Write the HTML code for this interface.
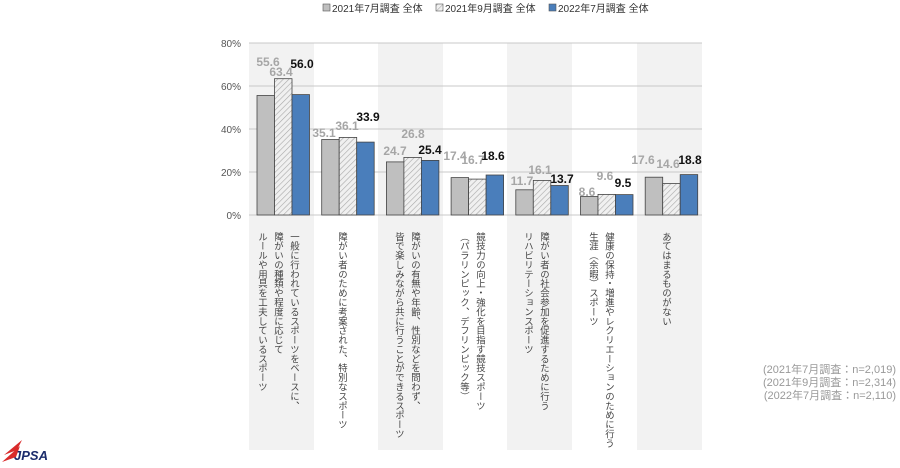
<!DOCTYPE html>
<html><head><meta charset="utf-8"><style>
body{margin:0;width:900px;height:468px;background:#fff;overflow:hidden;font-family:"Liberation Sans","Noto Sans CJK JP",sans-serif;}
.v{position:absolute;writing-mode:vertical-rl;font-size:9.4px;line-height:16px;color:#444;letter-spacing:0;top:232px;white-space:nowrap;}
.n{position:absolute;right:4px;font-size:11px;color:#999;line-height:13px;}
</style></head><body>
<svg width="900" height="468" style="position:absolute;left:0;top:0" font-family="Liberation Sans, Noto Sans CJK JP, sans-serif">
<defs><pattern id="h" width="4" height="4" patternUnits="userSpaceOnUse" patternTransform="rotate(45)"><rect width="4" height="4" fill="#f0f0f0"/><line x1="0" y1="0" x2="0" y2="4" stroke="#a8a8a8" stroke-width="1.2"/></pattern></defs>
<g fill="#f2f2f2">
<rect x="249" y="43" width="65" height="407"/><rect x="378" y="43" width="65" height="407"/><rect x="507" y="43" width="65" height="407"/><rect x="637" y="43" width="65" height="407"/>
</g>
<g stroke="#c8c8c8" stroke-width="1">
<line x1="249" y1="43" x2="702" y2="43"/><line x1="249" y1="86" x2="702" y2="86"/><line x1="249" y1="129" x2="702" y2="129"/><line x1="249" y1="172" x2="702" y2="172"/><line x1="249" y1="215" x2="702" y2="215"/>
</g>
<g font-size="10" fill="#555" text-anchor="end">
<text x="241" y="47">80%</text><text x="241" y="90">60%</text><text x="241" y="133">40%</text><text x="241" y="176">20%</text><text x="241" y="219">0%</text>
</g>
<g stroke="#444" stroke-width="0.8">
<rect x="257" y="95.5" width="17.5" height="119.5" fill="#bfbfbf"/><rect x="274.5" y="78.7" width="17.5" height="136.3" fill="url(#h)"/><rect x="292" y="94.6" width="17.5" height="120.4" fill="#4a7ebb"/>
<rect x="321.7" y="139.5" width="17.5" height="75.5" fill="#bfbfbf"/><rect x="339.2" y="137.4" width="17.5" height="77.6" fill="url(#h)"/><rect x="356.7" y="142.1" width="17.5" height="72.9" fill="#4a7ebb"/>
<rect x="386.4" y="161.9" width="17.5" height="53.1" fill="#bfbfbf"/><rect x="403.9" y="157.4" width="17.5" height="57.6" fill="url(#h)"/><rect x="421.4" y="160.4" width="17.5" height="54.6" fill="#4a7ebb"/>
<rect x="451.1" y="177.6" width="17.5" height="37.4" fill="#bfbfbf"/><rect x="468.6" y="179.1" width="17.5" height="35.9" fill="url(#h)"/><rect x="486.1" y="175" width="17.5" height="40" fill="#4a7ebb"/>
<rect x="515.8" y="189.8" width="17.5" height="25.2" fill="#bfbfbf"/><rect x="533.3" y="180.4" width="17.5" height="34.6" fill="url(#h)"/><rect x="550.8" y="185.5" width="17.5" height="29.5" fill="#4a7ebb"/>
<rect x="580.5" y="196.5" width="17.5" height="18.5" fill="#bfbfbf"/><rect x="598" y="194.4" width="17.5" height="20.6" fill="url(#h)"/><rect x="615.5" y="194.6" width="17.5" height="20.4" fill="#4a7ebb"/>
<rect x="645.2" y="177.2" width="17.5" height="37.8" fill="#bfbfbf"/><rect x="662.7" y="183.6" width="17.5" height="31.4" fill="url(#h)"/><rect x="680.2" y="174.6" width="17.5" height="40.4" fill="#4a7ebb"/>
</g>
<g font-size="12" font-weight="bold" text-anchor="middle">
<g fill="#a6a6a6">
<text x="268" y="66">55.6</text><text x="281" y="76">63.4</text>
<text x="324" y="137">35.1</text><text x="347" y="130">36.1</text>
<text x="395" y="155">24.7</text><text x="413" y="138">26.8</text>
<text x="455" y="160">17.4</text><text x="473" y="164">16.7</text>
<text x="522" y="185">11.7</text><text x="540" y="174">16.1</text>
<text x="587" y="196">8.6</text><text x="605" y="180">9.6</text>
<text x="643" y="164">17.6</text><text x="668" y="168">14.6</text>
</g>
<g fill="#111">
<text x="302" y="68">56.0</text><text x="368" y="121">33.9</text><text x="430" y="154">25.4</text><text x="493" y="160">18.6</text><text x="562" y="183">13.7</text><text x="623" y="187">9.5</text><text x="690" y="164">18.8</text>
</g>
</g>
<g font-size="10" fill="#333">
<rect x="323" y="4" width="7" height="7" fill="#bfbfbf" stroke="#555" stroke-width="0.6"/><text x="332" y="12">2021年7月調査 全体</text>
<rect x="436" y="4" width="7" height="7" fill="url(#h)" stroke="#555" stroke-width="0.6"/><text x="445" y="12">2021年9月調査 全体</text>
<rect x="549" y="4" width="7" height="7" fill="#4a7ebb" stroke="#555" stroke-width="0.6"/><text x="558" y="12">2022年7月調査 全体</text>
</g>
<g>
<path d="M4 455 L22 440 L17 450 Z" fill="#d92b2b"/><path d="M2 462 L20 446 L16 457 Z" fill="#d92b2b"/>
<text x="14" y="460" font-size="13" font-weight="bold" fill="#1a2b6b" font-style="italic">JPSA</text>
</g>
</svg>
<div class="v" style="left:254px;">一般に行われているスポーツをベースに、<br>障がいの種類や程度に応じて<br>ルールや用具を工夫しているスポーツ</div>
<div class="v" style="left:334px;">障がい者のために考案された、特別なスポーツ</div>
<div class="v" style="left:391px;">障がいの有無や年齢、性別などを問わず、<br>皆で楽しみながら共に行うことができるスポーツ</div>
<div class="v" style="left:456px;">競技力の向上・強化を目指す競技スポーツ<br>（パラリンピック、デフリンピック等）</div>
<div class="v" style="left:520px;">障がい者の社会参加を促進するために行う<br>リハビリテーションスポーツ</div>
<div class="v" style="left:585px;">健康の保持・増進やレクリエーションのために行う<br>生涯（余暇）スポーツ</div>
<div class="v" style="left:658px;">あてはまるものがない</div>
<div class="n" style="top:364px;">(2021年7月調査：n=2,019)</div>
<div class="n" style="top:377px;">(2021年9月調査：n=2,314)</div>
<div class="n" style="top:390px;">(2022年7月調査：n=2,110)</div>
</body></html>
